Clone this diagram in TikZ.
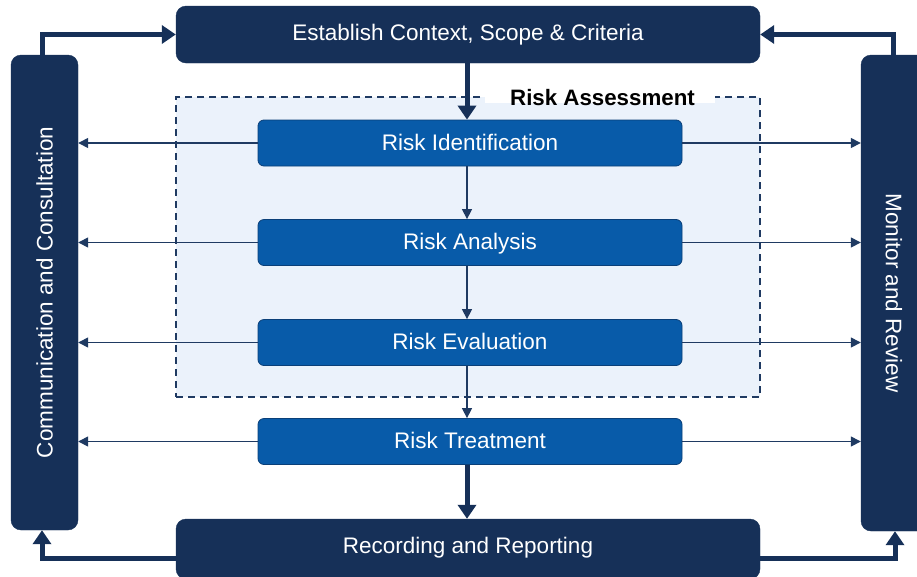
\documentclass[tikz,border=0pt]{standalone}
\usepackage{fontspec}
\setmainfont{Liberation Sans}
\usetikzlibrary{arrows.meta,calc}
\definecolor{navy}{HTML}{163058}
\definecolor{rblue}{HTML}{085BA9}
\definecolor{rborder}{HTML}{0A3F78}
\definecolor{light}{HTML}{EBF2FB}
\definecolor{lnavy}{HTML}{1F3A62}
\tikzset{
  navybox/.style={fill=navy, draw=navy, rounded corners=10pt, text=white, font=\fontsize{22.5}{26}\selectfont, inner sep=0pt},
  stepbox/.style={fill=rblue, draw=rborder, line width=0.8pt, rounded corners=6pt, text=white, minimum width=424pt, minimum height=46pt, font=\fontsize{22.5}{26}\selectfont, inner sep=0pt, text height=16pt, text depth=2pt},
  thickarrow/.style={draw=navy, line width=5pt, -{Triangle[length=14pt,width=18pt]}},
  thinarrow/.style={draw=lnavy, line width=1.4pt, -{Triangle[length=10pt,width=10pt]}},
}
\begin{document}
\begin{tikzpicture}[x=1pt,y=-1pt]
\useasboundingbox (0,0) rectangle (917,576);
\clip (0,0) rectangle (917,576);
% dashed risk assessment frame
\node[draw=lnavy, fill=light, dashed, dash pattern=on 7pt off 5pt, line width=1.2pt, minimum width=584pt, minimum height=300pt, inner sep=0pt] (frame) at (468,247) {};
\node[fill=white, inner sep=0pt, minimum width=230pt, minimum height=19pt] (ralabelbg) at (600,93.5) {};
\node[inner sep=0pt, text height=16pt, text depth=0pt, font=\fontsize{22.3}{26}\selectfont\bfseries] (ralabel) at (602.5,97) {Risk Assessment};
% main boxes
\node[navybox, minimum width=584pt, minimum height=57pt, text height=16pt, text depth=4pt] (top) at (468,34.5) {Establish Context, Scope \& Criteria};
\node[navybox, minimum width=584pt, minimum height=60pt, text height=16pt, text depth=8pt] (bot) at (468,549) {Recording and Reporting};
\node[navybox, minimum width=67pt, minimum height=475pt] (lc) at (44.5,292.5) {\rotatebox{90}{Communication and Consultation}};
\node[navybox, minimum width=66pt, minimum height=476pt] (rc) at (894,293) {\rotatebox{-90}{Monitor and Review}};
% steps
\node[stepbox] (ri) at (470,143) {Risk Identification};
\node[stepbox] (ra) at (470,242.5) {Risk Analysis};
\node[stepbox] (re) at (470,342.5) {Risk Evaluation};
\node[stepbox] (rt) at (470,441.5) {Risk Treatment};
\coordinate (ax) at (467,0);
% vertical arrows
\draw[thickarrow] (top.south -| ax) -- (ri.north -| ax);
\draw[thinarrow] (ri.south -| ax) -- (ra.north -| ax);
\draw[thinarrow] (ra.south -| ax) -- (re.north -| ax);
\draw[thinarrow] (re.south -| ax) -- (rt.north -| ax);
\draw[thickarrow] (rt.south -| ax) -- (bot.north -| ax);
% side arrows
\foreach \n in {ri,ra,re,rt}{
  \draw[thinarrow] (\n.west) -- (\n.west -| lc.east);
  \draw[thinarrow] (\n.east) -- (\n.east -| rc.west);
}
% loop arrows
\draw[thickarrow] ([xshift=-2.5pt]lc.north) |- (top.west);
\draw[thickarrow] ([xshift=-1pt]rc.north) |- (top.east);
\draw[thickarrow] ([yshift=-9pt]bot.west) -| ([xshift=-2.5pt]lc.south);
\draw[thickarrow] ([yshift=-9pt]bot.east) -| ([xshift=1pt]rc.south);
\end{tikzpicture}
\end{document}
